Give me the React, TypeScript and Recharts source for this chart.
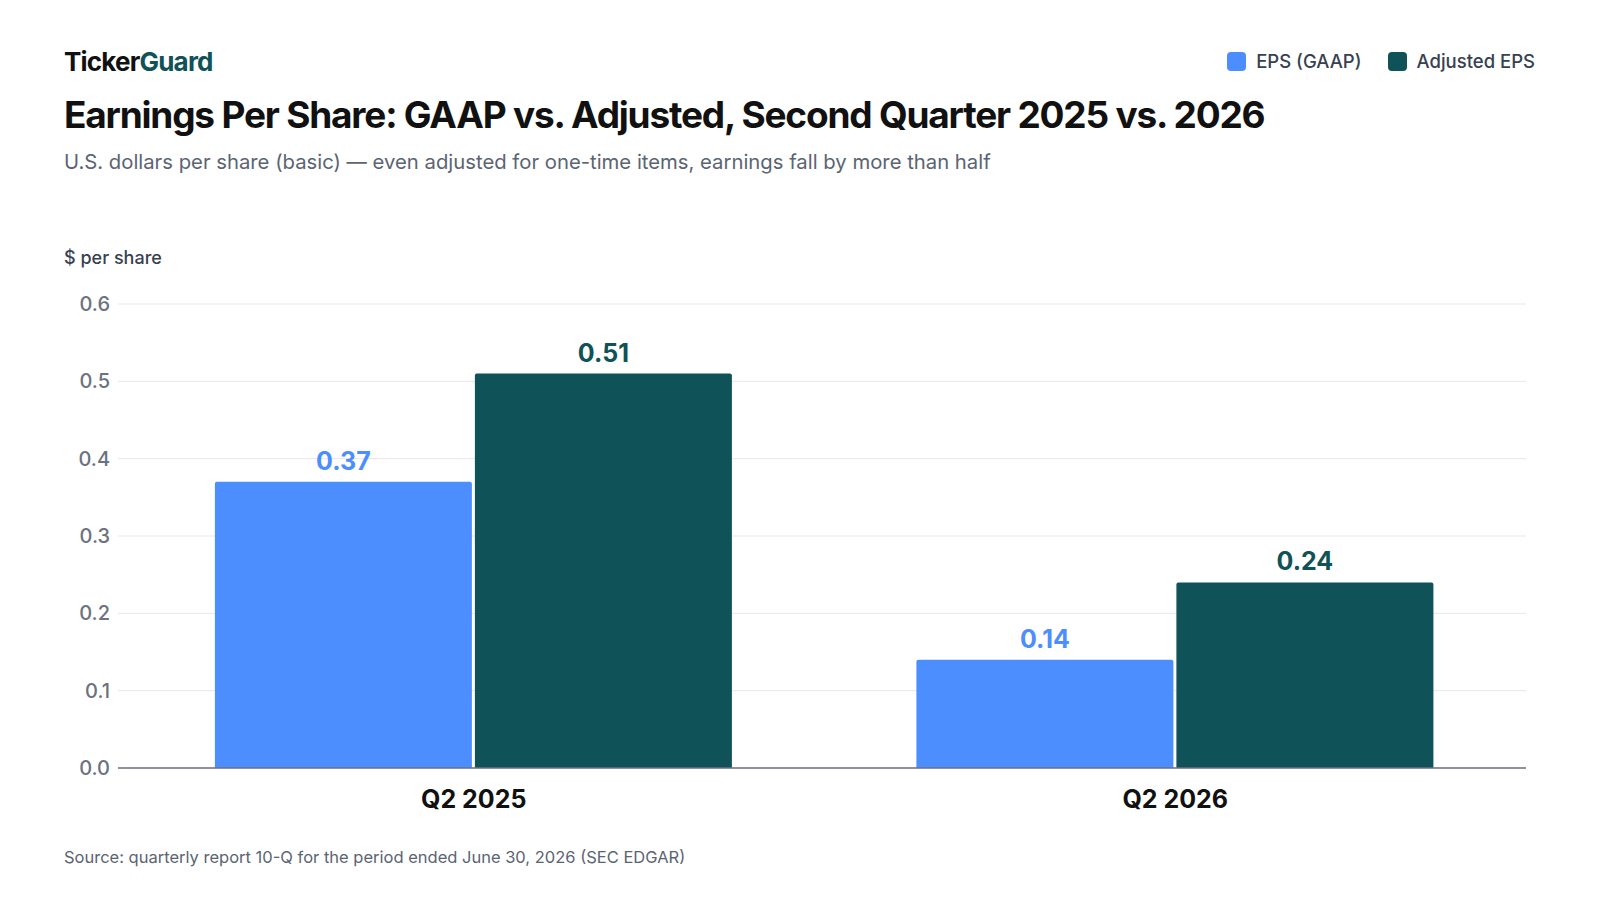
import { BarChart, Bar, XAxis, YAxis, CartesianGrid, LabelList } from 'recharts';

const quarters = ['Q2 2025', 'Q2 2026'];
const epsGaap = [0.37, 0.14];
const epsAdjusted = [0.51, 0.24];
const yTicks = [0, 0.1, 0.2, 0.3, 0.4, 0.5, 0.6];

const BLUE = '#4d8eff';
const TEAL = '#0f5257';
const FONT = 'Inter, "Noto Sans", sans-serif';

const data = quarters.map((q, i) => ({ quarter: q, gaap: epsGaap[i], adjusted: epsAdjusted[i] }));

const LegendItem = ({ color, label }: { color: string; label: string }) => (
  <div style={{ display: 'flex', alignItems: 'center', gap: 10 }}>
    <span style={{ width: 19, height: 19, borderRadius: 4, background: color, display: 'inline-block' }} />
    <span style={{ fontSize: 18.5, color: '#374151', fontWeight: 500 }}>{label}</span>
  </div>
);

export default function App() {
  return (
    <div style={{ position: 'absolute', left: 0, top: 0, width: 1600, height: 900, background: '#fff', fontFamily: FONT }}>
      <div style={{ position: 'absolute', left: 64, top: 46, fontSize: 26, fontWeight: 700, letterSpacing: -0.8, color: '#111' }}>
        Ticker<span style={{ color: TEAL }}>Guard</span>
      </div>
      <div style={{ position: 'absolute', right: 65, top: 50, display: 'flex', gap: 26 }}>
        <LegendItem color={BLUE} label="EPS (GAAP)" />
        <LegendItem color={TEAL} label="Adjusted EPS" />
      </div>
      <div style={{ position: 'absolute', left: 64, top: 92, fontSize: 37, fontWeight: 700, letterSpacing: -1.2, color: '#111' }}>
        Earnings Per Share: GAAP vs. Adjusted, Second Quarter 2025 vs. 2026
      </div>
      <div style={{ position: 'absolute', left: 64, top: 149, fontSize: 20.3, color: '#5b6472' }}>
        U.S. dollars per share (basic) — even adjusted for one-time items, earnings fall by more than half
      </div>
      <div style={{ position: 'absolute', left: 64, top: 247, fontSize: 18, color: '#374151', fontWeight: 500 }}>
        $ per share
      </div>
      <div style={{ position: 'absolute', left: 0, top: 0 }}>
        <BarChart
          width={1600}
          height={900}
          data={data}
          margin={{ top: 304, right: 74, bottom: 102, left: 58 }}
          barCategoryGap="13.1%"
          barGap={3}
        >
          <CartesianGrid vertical={false} stroke="#e5e7eb" />
          <YAxis
            width={60}
            domain={[0, 0.6]}
            ticks={yTicks}
            tickFormatter={(v: number) => v.toFixed(1)}
            axisLine={false}
            tickLine={false}
            tick={{ fontSize: 20, fill: '#6b7280', fontWeight: 500, fontFamily: FONT }}
          />
          <XAxis
            dataKey="quarter"
            tickLine={false}
            axisLine={{ stroke: '#6b7280', strokeWidth: 1.5 }}
            tick={{ fontSize: 25, fill: '#111', fontWeight: 700, fontFamily: FONT }}
            padding={{ left: 5, right: 0 }}
            dy={14}
          />
          <Bar dataKey="gaap" fill={BLUE} radius={[2, 2, 0, 0]} isAnimationActive={false}>
            <LabelList dataKey="gaap" position="top" offset={12} formatter={(v: number) => v.toFixed(2)}
              style={{ fontSize: 25, fontWeight: 700, fill: BLUE, fontFamily: FONT }} />
          </Bar>
          <Bar dataKey="adjusted" fill={TEAL} radius={[2, 2, 0, 0]} isAnimationActive={false}>
            <LabelList dataKey="adjusted" position="top" offset={12} formatter={(v: number) => v.toFixed(2)}
              style={{ fontSize: 25, fontWeight: 700, fill: TEAL, fontFamily: FONT }} />
          </Bar>
        </BarChart>
      </div>
      <div style={{ position: 'absolute', left: 64, top: 847, fontSize: 16.5, color: '#5b6472' }}>
        Source: quarterly report 10-Q for the period ended June 30, 2026 (SEC EDGAR)
      </div>
    </div>
  );
}
